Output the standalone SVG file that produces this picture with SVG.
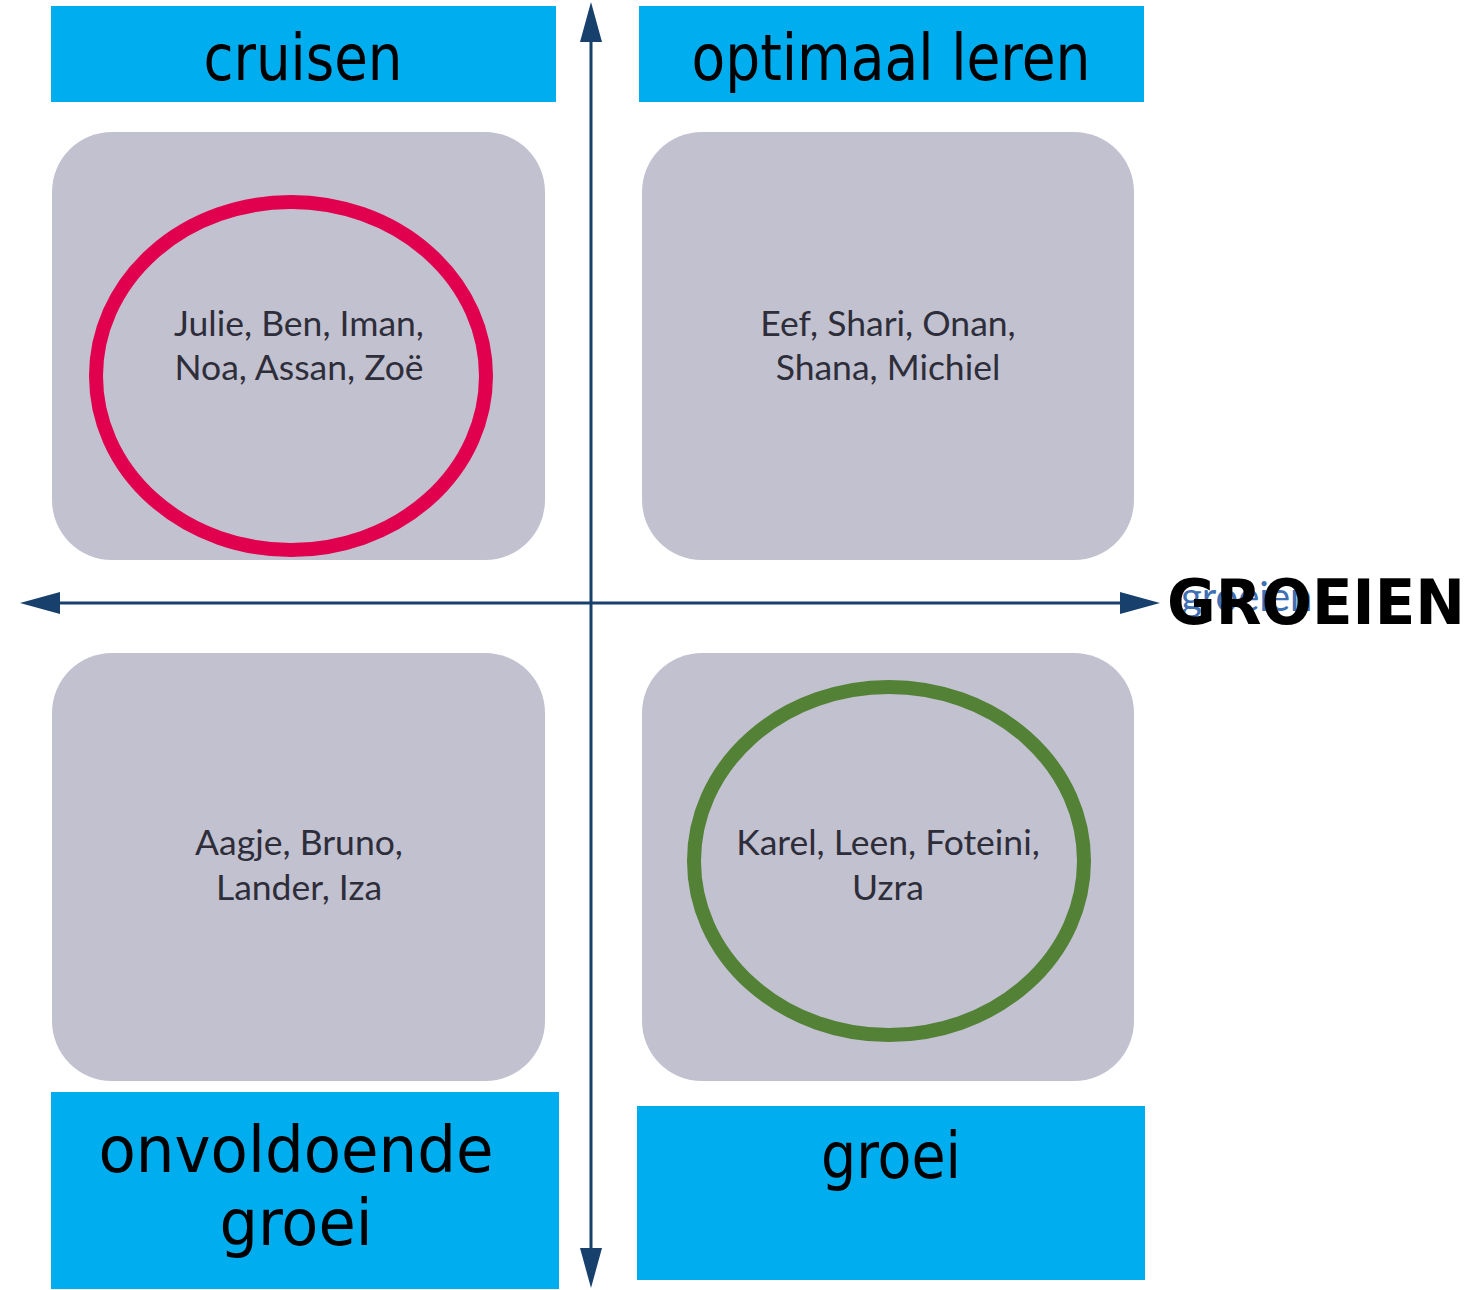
<svg xmlns="http://www.w3.org/2000/svg" width="1479" height="1290" viewBox="0 0 1479 1290">
<style>
.banner{fill:#00AEEF}
.btxt{font-family:"DejaVu Sans Condensed","DejaVu Sans",sans-serif;font-size:64px;fill:#000;text-anchor:middle}
.box{fill:#C2C1D0}
.names{font-family:Lato,"Open Sans",sans-serif;font-size:35.5px;fill:#2E2E3A;text-anchor:middle}
.axis{stroke:#17406D;stroke-width:3;fill:none}
.head{fill:#17406D}
</style>
<rect width="1479" height="1290" fill="#fff"/>
<g id="banner-cruisen"><rect class="banner" x="51" y="6" width="505" height="96"/><text class="btxt" x="303" y="80" textLength="199" lengthAdjust="spacingAndGlyphs">cruisen</text></g>
<g id="banner-optimaal"><rect class="banner" x="639" y="6" width="505" height="96"/><text class="btxt" x="891" y="80" textLength="399" lengthAdjust="spacingAndGlyphs">optimaal leren</text></g>
<g id="banner-onvoldoende"><rect class="banner" x="51" y="1092" width="508" height="197"/><text class="btxt" x="296" y="1172" textLength="395" lengthAdjust="spacingAndGlyphs">onvoldoende</text><text class="btxt" x="296" y="1245" textLength="153" lengthAdjust="spacingAndGlyphs">groei</text></g>
<g id="banner-groei"><rect class="banner" x="637" y="1106" width="508" height="174"/><text class="btxt" x="891" y="1178" textLength="140" lengthAdjust="spacingAndGlyphs">groei</text></g>
<g id="box-tl"><rect class="box" x="52" y="132" width="493" height="428" rx="60"/><text class="names" x="299" y="336">Julie, Ben, Iman,</text><text class="names" x="299" y="380">Noa, Assan, Zoë</text></g>
<g id="box-tr"><rect class="box" x="642" y="132" width="492" height="428" rx="60"/><text class="names" x="888" y="336">Eef, Shari, Onan,</text><text class="names" x="888" y="380">Shana, Michiel</text></g>
<g id="box-bl"><rect class="box" x="52" y="653" width="493" height="428" rx="60"/><text class="names" x="299" y="855">Aagje, Bruno,</text><text class="names" x="299" y="900">Lander, Iza</text></g>
<g id="box-br"><rect class="box" x="642" y="653" width="492" height="428" rx="60"/><text class="names" x="888" y="855">Karel, Leen, Foteini,</text><text class="names" x="888" y="900">Uzra</text></g>
<g id="connectors">
<line class="axis" x1="591" y1="30" x2="591" y2="1262"/>
<line class="axis" x1="50" y1="603" x2="1130" y2="603"/>
<polygon class="head" points="591,2 580,42 602,42"/>
<polygon class="head" points="591,1288 580,1248 602,1248"/>
<polygon class="head" points="20,603 60,592 60,614"/>
<polygon class="head" points="1160,603 1120,592 1120,614"/>
</g>
<g id="ellipse-red"><ellipse cx="291" cy="376" rx="195" ry="174" fill="none" stroke="#E0004D" stroke-width="14"/></g>
<g id="ellipse-green"><ellipse cx="889" cy="861" rx="195" ry="174" fill="none" stroke="#538135" stroke-width="14"/></g>
<g id="label-groeien">
<text x="1181" y="611" font-family="Lato,'Open Sans',sans-serif" font-size="40" fill="#3F6FB5">groeien</text>
<text x="1167" y="624" font-family="'DejaVu Sans',sans-serif" font-weight="bold" font-size="62" fill="#000" textLength="298" lengthAdjust="spacingAndGlyphs">GROEIEN</text>
</g>
</svg>
